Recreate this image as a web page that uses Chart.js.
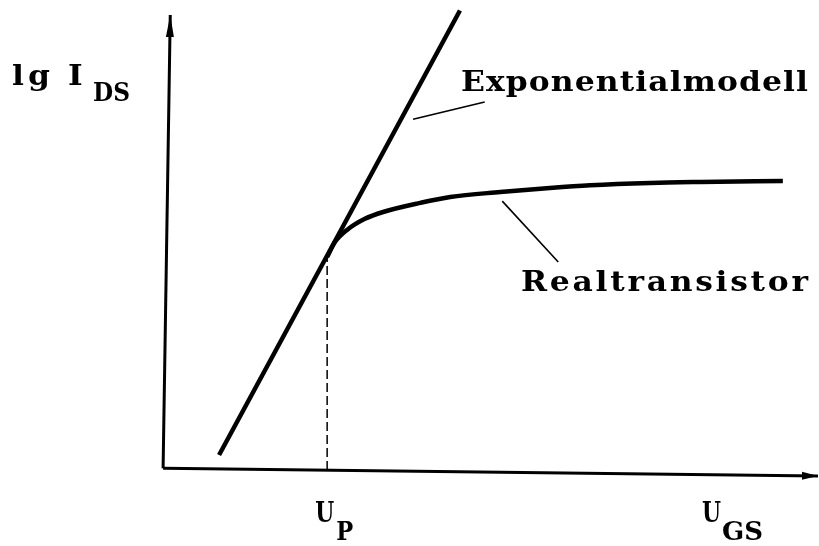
<!DOCTYPE html>
<html>
<head>
<meta charset="utf-8">
<script src="https://cdn.jsdelivr.net/npm/chart.js@4/dist/chart.umd.min.js"></script>
<style>
  html, body { margin: 0; padding: 0; background: #fff; }
  #wrap { width: 819px; height: 546px; }
</style>
</head>
<body>
<div id="wrap"><canvas id="chart" width="819" height="546"></canvas></div>
<script>
// gate voltage / log drain current, arbitrary units (0..100 on both axes)
const expModelX = [8, 45];
const expModelY = [3.3, 101];

const realX = [24.6, 25.8, 27.6, 30.4, 33.2, 38.9, 43.5, 51.2, 58.8, 65.0, 74.2, 81.9, 94.6];
const realY = [46.8, 50.1, 52.7, 55.2, 56.7, 58.7, 60.0, 61.1, 62.0, 62.6, 63.1, 63.3, 63.5];

const pinchOffX = 24.6; // U_P
const pinchOffY = 46.8;

// axis ends (scan is slightly rotated)
const yAxisX = [-0.6, 0.5];
const yAxisY = [0.4, 100];
const xAxisX = [-0.6, 100];
const xAxisY = [0.4, -1.3];

// leader lines from the labels to their curves
const expLeaderX = [37.8, 48.8];
const expLeaderY = [77.1, 80.9];
const realLeaderX = [51.5, 60.1];
const realLeaderY = [59.1, 45.7];

const pts = (xs, ys) => xs.map((x, i) => ({ x: x, y: ys[i] }));

const lineSet = (data, width, extra) => Object.assign({
    data: data,
    showLine: true,
    borderColor: '#000',
    borderWidth: width,
    pointRadius: 0,
    clip: false,
    fill: false
}, extra || {});

// filled arrow head at the last point of datasets flagged with arrow
const arrowHeads = {
    id: 'arrowHeads',
    afterDatasetsDraw(chart) {
        const ctx = chart.ctx;
        chart.data.datasets.forEach((ds, i) => {
            if (!ds.arrow) return;
            const pts = chart.getDatasetMeta(i).data;
            const a = pts[pts.length - 2], b = pts[pts.length - 1];
            const ang = Math.atan2(b.y - a.y, b.x - a.x);
            const len = ds.arrow.len, half = ds.arrow.half;
            ctx.save();
            ctx.translate(b.x, b.y);
            ctx.rotate(ang);
            ctx.beginPath();
            ctx.moveTo(0, 0);
            ctx.lineTo(-len, -half);
            ctx.lineTo(-len, half);
            ctx.closePath();
            ctx.fillStyle = '#000';
            ctx.fill();
            ctx.restore();
        });
    }
};

// typewriter-ish text: slightly widened serif glyphs spread evenly over a given width
const FONT = 'bold 28px "DejaVu Serif", "Liberation Serif", serif';
const SUB = 'bold 26px "DejaVu Serif", "Liberation Serif", serif';

function typed(ctx, txt, left, base, width, font) {
    ctx.font = font;
    ctx.textAlign = 'left';
    const w = Array.from(txt).map(ch => ctx.measureText(ch).width);
    const sum = w.reduce((a, b) => a + b, 0);
    let st = 1.12, extra = 0;
    if (sum * st > width) st = width / sum;
    else if (txt.length > 1) extra = (width - sum * st) / (txt.length - 1);
    let x = left;
    for (let i = 0; i < txt.length; i++) {
        ctx.save();
        ctx.translate(x, base);
        ctx.scale(st, 1);
        ctx.fillText(txt[i], 0, 0);
        ctx.restore();
        x += w[i] * st + extra;
    }
}

const labels = {
    id: 'labels',
    afterDraw(chart) {
        const ctx = chart.ctx;
        const sx = chart.scales.x;
        ctx.save();
        ctx.fillStyle = '#000';
        ctx.textBaseline = 'alphabetic';

        // y axis title
        typed(ctx, 'lg', 12, 85, 38, FONT);
        typed(ctx, 'I', 68, 85, 22, FONT);
        typed(ctx, 'DS', 93, 101, 37, SUB);

        // x axis labels
        const up = sx.getPixelForValue(pinchOffX);
        typed(ctx, 'U', up - 12, 522, 19, FONT);
        typed(ctx, 'P', up + 9, 540, 17, SUB);
        typed(ctx, 'U', 702, 522, 19, FONT);
        typed(ctx, 'GS', 722, 540, 41, SUB);

        // curve names
        typed(ctx, 'Exponentialmodell', 461, 91, 347, FONT);
        typed(ctx, 'Realtransistor', 521, 291, 287, FONT);
        ctx.restore();
    }
};

new Chart(document.getElementById('chart'), {
    type: 'scatter',
    data: {
        datasets: [
            lineSet(pts(yAxisX, yAxisY), 3, { arrow: { len: 22, half: 4 } }),
            lineSet(pts(xAxisX, xAxisY), 3, { arrow: { len: 16, half: 4 } }),
            lineSet(pts([pinchOffX, pinchOffX], [0, pinchOffY]), 1.5, { borderDash: [9, 4] }),
            lineSet(pts(expModelX, expModelY), 4.5),
            lineSet(pts(realX, realY), 4.5, { cubicInterpolationMode: 'monotone' }),
            lineSet(pts(expLeaderX, expLeaderY), 1.6),
            lineSet(pts(realLeaderX, realLeaderY), 1.6)
        ]
    },
    options: {
        responsive: false,
        animation: false,
        layout: { padding: { left: 167, right: 1, top: 15, bottom: 76 } },
        plugins: { legend: { display: false }, tooltip: { enabled: false } },
        scales: {
            x: { type: 'linear', min: 0, max: 100, display: false },
            y: { type: 'linear', min: 0, max: 100, display: false }
        }
    },
    plugins: [arrowHeads, labels]
});
</script>
</body>
</html>
